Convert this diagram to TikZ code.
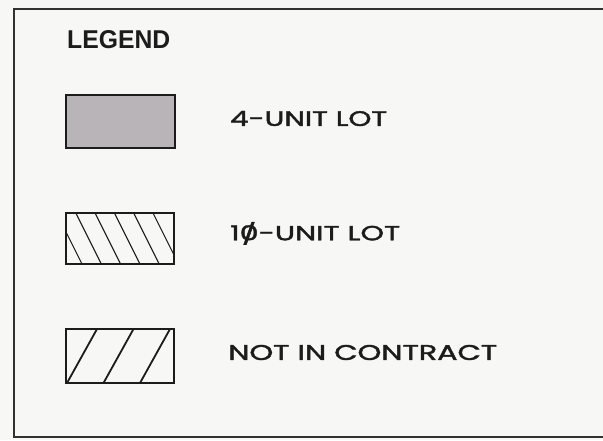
\documentclass[tikz,border=0pt]{standalone}
\usepackage{fontspec}
\usepackage{graphicx}
\setmainfont{Poppins}
\newfontfamily\lblfont[FakeBold=1.6]{Poppins}
\newfontfamily\legendfont{Liberation Sans}
\definecolor{paper}{RGB}{247,247,245}
\definecolor{ink}{RGB}{28,28,28}
\definecolor{frameink}{RGB}{50,50,50}
\definecolor{lotgray}{RGB}{184,180,183}
\newcommand{\fitto}[3]{\resizebox{#1}{#2}{#3}}
\newcommand{\slzero}{\ooalign{0\cr\hidewidth\raisebox{-0.05em}{/}\hidewidth\cr}}
\tikzset{
  x=1pt, y=-1pt,
  swatch/.style={draw=ink, line width=1.5pt, minimum width=108pt, minimum height=52pt, inner sep=0pt},
  label/.style={anchor=west, inner sep=0pt, text=ink, font=\lblfont},
  thinhatch/.style={draw=ink, line width=1.1pt},
  thickhatch/.style={draw=ink, line width=1.8pt},
}
\begin{document}
\begin{tikzpicture}
\useasboundingbox (0,0) rectangle (603,440);
\fill[paper] (0,0) rectangle (603,440);
\draw[frameink, line width=2pt] (604,9) -- (14,9) -- (14,437) -- (604,437);

\node[label, font=\legendfont\bfseries] (title) at (67,40) {\fitto{103pt}{18pt}{LEGEND}};

% 4-unit lot
\node[swatch, fill=lotgray, minimum width=109pt, minimum height=53pt] (s1) at (120.5,121.5) {};
\node[label] (t1) at (230,118.5) {\fitto{157pt}{15pt}{4-UNIT LOT}};

% 10-unit lot
\node[swatch, minimum height=51pt,
  path picture={
    \foreach \k in {0,...,5}{
      \draw[thinhatch] ([xshift={-9.5pt+19.3pt*\k}]path picture bounding box.north west)
        -- ++(25.5pt,-51pt);
    }
  }] (s2) at (120,238.5) {};
\node[label] (t2) at (230,235) {\fitto{170pt}{15pt}{1\slzero-UNIT LOT}};

% not in contract
\node[swatch, minimum height=54pt,
  path picture={
    \foreach \k in {0,1,2}{
      \draw[thickhatch] ([xshift={1pt+36.5pt*\k}]path picture bounding box.south west)
        -- ++(30pt,54pt);
    }
  }] (s3) at (120,356) {};
\node[label] (t3) at (228,352.5) {\fitto{269pt}{15pt}{NOT IN CONTRACT}};
\end{tikzpicture}
\end{document}
